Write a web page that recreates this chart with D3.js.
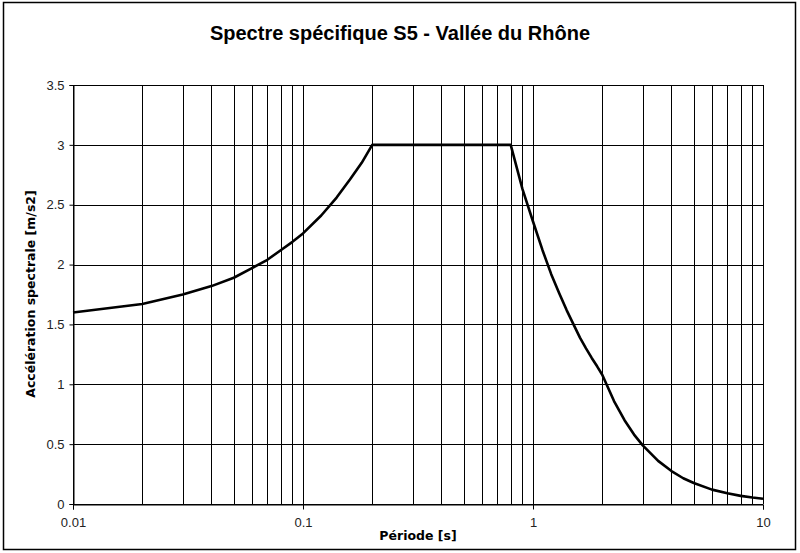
<!DOCTYPE html>
<html>
<head>
<meta charset="utf-8">
<script src="https://cdn.jsdelivr.net/npm/d3@7"></script>
<style>
  body { margin: 0; background: #fff; }
  svg text { font-family: Arial, "Liberation Sans", sans-serif; }
</style>
</head>
<body>
<svg id="chart" width="800" height="553"></svg>
<script>
// values
let periods = [0.01, 0.02, 0.03, 0.04, 0.05, 0.06, 0.07, 0.08, 0.09, 0.1, 0.12, 0.14, 0.16, 0.18, 0.2,
    0.8, 0.9, 1.0, 1.1, 1.2, 1.3, 1.4, 1.5, 1.6, 1.7, 1.8, 1.9, 2.0, 2.25, 2.5, 2.75, 3.0, 3.5, 4.0, 4.5,
    5.0, 6.0, 7.0, 8.0, 9.0, 10];
let accel = [1.60, 1.67, 1.75, 1.82, 1.89, 1.97, 2.04, 2.12, 2.19, 2.26, 2.41, 2.56, 2.71, 2.85, 3.0,
    3.0, 2.63, 2.36, 2.12, 1.92, 1.76, 1.62, 1.50, 1.39, 1.30, 1.22, 1.15, 1.08, 0.86, 0.70, 0.58, 0.49,
    0.36, 0.275, 0.215, 0.175, 0.12, 0.089, 0.068, 0.054, 0.044];

let xMajor = [0.01, 0.1, 1, 10];
let xMajorLabels = ["0.01", "0.1", "1", "10"];
let yTicks = [0, 0.5, 1, 1.5, 2, 2.5, 3, 3.5];

let title = "Spectre spécifique S5 - Vallée du Rhône";
let xTitle = "Période [s]";
let yTitle = "Accélération spectrale [m/s2]";

//layout
let plotLeft = 73, plotRight = 763, plotTop = 85, plotBottom = 504;

let svg = d3.select("#chart");

//outer frame
svg.append("rect")
    .attr("x", 3.5).attr("y", 2.5)
    .attr("width", 792).attr("height", 547)
    .attr("fill", "#fff")
    .attr("stroke", "#000")
    .attr("stroke-width", 1.5);

let x = d3.scaleLog().domain([0.01, 10]).range([plotLeft, plotRight]);
let y = d3.scaleLinear().domain([0, 3.5]).range([plotBottom, plotTop]);

//all log gridlines (1..9 in each decade)
let xGrid = x.ticks();

svg.append("g")
    .selectAll("line")
    .data(xGrid)
    .enter()
    .append("line")
    .attr("x1", d => Math.round(x(d)) + 0.5)
    .attr("x2", d => Math.round(x(d)) + 0.5)
    .attr("y1", plotTop)
    .attr("y2", plotBottom)
    .attr("stroke", "#000")
    .attr("stroke-width", 1);

svg.append("g")
    .selectAll("line")
    .data(yTicks)
    .enter()
    .append("line")
    .attr("x1", plotLeft)
    .attr("x2", plotRight)
    .attr("y1", d => Math.round(y(d)) + 0.5)
    .attr("y2", d => Math.round(y(d)) + 0.5)
    .attr("stroke", "#000")
    .attr("stroke-width", 1);

//axes
let xAxis = svg.append("g")
    .attr("transform", `translate(0,${Math.round(y(0)) + 0.5})`)
    .call(d3.axisBottom(x).tickValues(xMajor)
        .tickFormat((d, i) => xMajorLabels[i])
        .tickSize(5).tickPadding(8));

let yAxis = svg.append("g")
    .attr("transform", `translate(${Math.round(x(0.01)) + 0.5},0)`)
    .call(d3.axisLeft(y).tickValues(yTicks)
        .tickFormat(d3.format("~g"))
        .tickSize(4).tickPadding(5));

[xAxis, yAxis].forEach(a => {
    a.select(".domain").attr("stroke", "#000");
    a.selectAll(".tick line").attr("stroke", "#000");
    a.selectAll(".tick text")
        .attr("fill", "#222")
        .style("font-size", "13px");
});

//curve
let line = d3.line()
    .x((d, i) => x(periods[i]))
    .y(d => y(d));

svg.append("path")
    .datum(accel)
    .attr("d", line)
    .attr("fill", "none")
    .attr("stroke", "#000")
    .attr("stroke-width", 2.6)
    .attr("stroke-linejoin", "round");

//titles
svg.append("text")
    .attr("x", 400).attr("y", 40)
    .attr("text-anchor", "middle")
    .style("font-size", "20px")
    .style("font-weight", "bold")
    .text(title);

svg.append("text")
    .attr("x", 418).attr("y", 540)
    .attr("text-anchor", "middle")
    .style("font-family", "'DejaVu Sans', sans-serif")
    .style("font-size", "12.5px")
    .style("font-weight", "bold")
    .text(xTitle);

svg.append("text")
    .attr("transform", "translate(35,294) rotate(-90)")
    .attr("text-anchor", "middle")
    .style("font-family", "'DejaVu Sans', sans-serif")
    .style("font-size", "12.5px")
    .style("font-weight", "bold")
    .text(yTitle);
</script>
</body>
</html>
